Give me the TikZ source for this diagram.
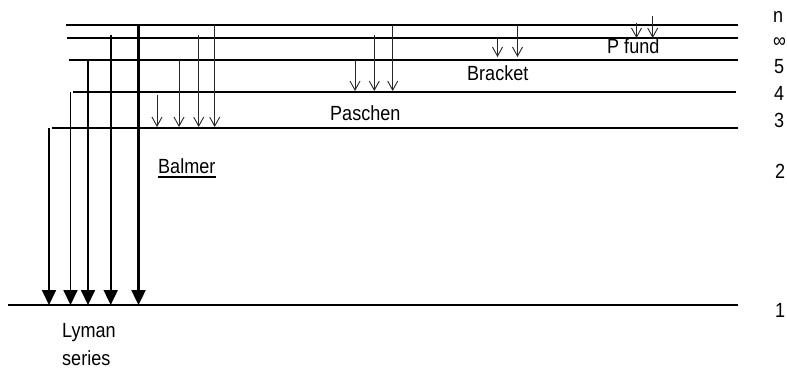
\documentclass[tikz,border=0pt]{standalone}
\usepackage{fontspec}
\setmainfont{Liberation Sans}[FakeStretch=0.88]
\usetikzlibrary{arrows.meta}
\begin{document}
\begin{tikzpicture}[x=1pt,y=-1pt,
  level/.style={line width=1.8pt,black},
  lyman/.style={line width=1.8pt,black,-{Triangle[length=15pt,width=14pt]}},
  lymanthick/.style={line width=2.4pt,black,-{Triangle[length=15pt,width=14pt]}},
  thin/.style={line width=0.9pt,black!85,-{Straight Barb[length=9pt,width=10pt,line width=0.9pt]}},
  lbl/.style={inner sep=0pt,anchor=base west,font=\fontsize{20.5}{24}\selectfont}]
\useasboundingbox (0,0) rectangle (787,370);
% energy levels
\foreach \nm/\y/\xa/\xb in {la/25/66/738, lb/38/67/738, lc/60/69/738, ld/92/73/736, le/128/52/738, lf/305/8/738}{
  \coordinate (\nm w) at (\xa,\y);
  \coordinate (\nm e) at (\xb,\y);
  \draw[level] (\nm w) -- (\nm e);
}
% Lyman series
\foreach \x/\ya [count=\i] in {49/128, 70.5/92, 88/60, 110.7/35}{
  \coordinate (ly\i s) at (\x,\ya);
  \coordinate (ly\i e) at (\x,305);
  \draw[lyman] (ly\i s) -- (ly\i e);
}
\coordinate (ly5s) at (138.5,25);
\coordinate (ly5e) at (138.5,305);
\draw[lymanthick] (ly5s) -- (ly5e);
% Balmer
\foreach \x/\ya [count=\i] in {157/95, 179/60, 198.7/35, 214.7/25}{
  \coordinate (ba\i s) at (\x,\ya);
  \coordinate (ba\i e) at (\x,127);
  \draw[thin] (ba\i s) -- (ba\i e);
}
% Paschen
\foreach \x/\ya [count=\i] in {355/60, 374.3/35, 392.7/25}{
  \coordinate (pa\i s) at (\x,\ya);
  \coordinate (pa\i e) at (\x,91);
  \draw[thin] (pa\i s) -- (pa\i e);
}
% Bracket
\foreach \x/\ya [count=\i] in {497.5/38, 517.5/25}{
  \coordinate (br\i s) at (\x,\ya);
  \coordinate (br\i e) at (\x,57);
  \draw[thin] (br\i s) -- (br\i e);
}
% P fund
\foreach \x/\ya [count=\i] in {636.5/23, 652.7/16}{
  \coordinate (pf\i s) at (\x,\ya);
  \coordinate (pf\i e) at (\x,38);
  \draw[thin] (pf\i s) -- (pf\i e);
}
% labels
\node[lbl] (balmer) at (158,173) {Balmer};
\draw[line width=1.8pt] ([yshift=-4pt]balmer.base west) -- ([yshift=-4pt]balmer.base east);
\node[lbl] (lyman) at (62,337) {Lyman};
\node[lbl] (series) at (62,365) {series};
\node[lbl] (paschen) at (330,120) {Paschen};
\node[lbl] (bracket) at (467,80) {Bracket};
\node[lbl] (pfund) at (607,53) {P fund};
% quantum numbers
\node[lbl] (qn) at (773,22) {n};
\node[lbl] (qinf) at (773,47) {∞};
\node[lbl] (q5) at (774,73) {5};
\node[lbl] (q4) at (774,100) {4};
\node[lbl] (q3) at (774,127) {3};
\node[lbl] (q2) at (775,178) {2};
\node[lbl] (q1) at (775,317) {1};
\end{tikzpicture}
\end{document}
